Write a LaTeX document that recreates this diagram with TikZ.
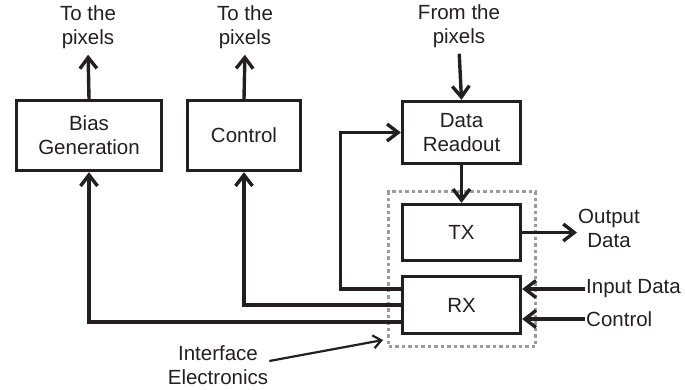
\documentclass[tikz,border=0pt]{standalone}
\usepackage{fontspec}
\setmainfont{Liberation Sans}
\usetikzlibrary{arrows.meta}
\definecolor{ink}{RGB}{35,31,32}
\definecolor{dotgray}{RGB}{155,155,155}

\begin{document}
\begin{tikzpicture}[x=1pt, y=-1pt, color=ink,
    block/.style={draw, line width=3.4pt, inner sep=0pt, align=center, font=\fontsize{20.5}{24}\selectfont},
    lbl/.style={inner sep=1pt, align=center, font=\fontsize{20.5}{24}\selectfont},
    arr/.style={line width=3.4pt, -{Straight Barb[length=11pt, width=17pt]}},
    thinarr/.style={line width=2.2pt, -{Straight Barb[length=8pt, width=13pt]}},
    dotbox/.style={draw=dotgray, line width=3.2pt, dash pattern=on 3.5pt off 3pt}]
    \useasboundingbox (0,0) rectangle (685,389);
    % blocks
    \node[block, minimum width=145pt, minimum height=70pt] (bias) at (89,135.5) {Bias\\Generation};
    \node[block, minimum width=113pt, minimum height=70pt] (ctrl) at (244,135.5) {Control};
    \node[block, minimum width=118pt, minimum height=62pt] (readout) at (461.5,132.5) {Data\\Readout};
    \node[block, minimum width=118pt, minimum height=56pt] (tx) at (461.5,232.5) {TX};
    \node[block, minimum width=118pt, minimum height=57pt] (rx) at (461.5,305) {RX};
    \node[dotbox, minimum width=147pt, minimum height=155pt] (iface) at (462,269) {};
    % labels
    \node[lbl] (biaspix) at (88,27) {To the\\pixels};
    \node[lbl] (ctrlpix) at (245,27) {To the\\pixels};
    \node[lbl] (frompix) at (459,26) {From the\\pixels};
    \node[lbl] (outdata) at (609,228) {Output\\Data};
    \node[lbl, anchor=west] (indata) at (585,289) {Input Data};
    \node[lbl, anchor=west] (inctrl) at (585,319) {Control};
    \node[lbl] (ielab) at (218,365) {Interface\\Electronics};
    \coordinate (ietip) at (383,340);
    % connections
    \draw[arr, shorten >=5pt] (bias.north) -- (biaspix.south);
    \draw[arr, shorten >=5pt] (ctrl.north) -- (ctrlpix.south);
    \draw[arr, shorten <=5pt] (frompix.south) -- (readout.north);
    \draw[arr] (readout.south) -- (tx.north);
    \draw[arr] (tx.east) -- (tx.east -| outdata.west);
    \draw[arr] (indata.west) -- (indata.west -| rx.east);
    \draw[arr] (inctrl.west) -- (inctrl.west -| rx.east);
    \draw[arr] ([yshift=16pt]rx.west) -- ++(-60.5,0) |- (readout.west);
    \draw[arr] (rx.west) -| (ctrl.south);
    \draw[arr] ([yshift=-17pt]rx.west) -| (bias.south);
    \draw[thinarr] ([yshift=4pt]ielab.east) -- (ietip);
\end{tikzpicture}
\end{document}
